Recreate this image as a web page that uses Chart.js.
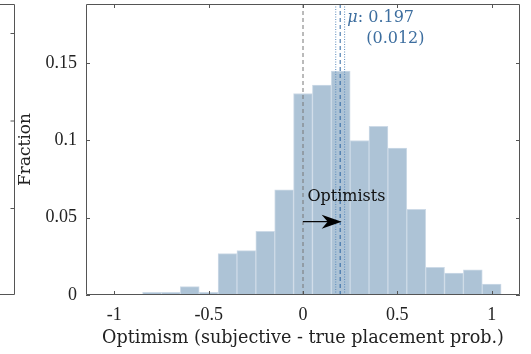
<!DOCTYPE html>
<html>
<head>
<meta charset="utf-8">
<script src="https://cdn.jsdelivr.net/npm/chart.js@4/dist/chart.umd.min.js"></script>
<style>
  html, body { margin: 0; padding: 0; background: #fff; }
  #wrap { width: 531px; height: 354px; }
</style>
</head>
<body>
<div id="wrap"><canvas id="chart"></canvas></div>
<script>
// histogram bins (centre of each 0.1-wide bin) and fraction of subjects in each
const binCenters = [-0.8, -0.7, -0.6, -0.5, -0.4, -0.3, -0.2, -0.1, 0.0, 0.1,
                    0.2, 0.3, 0.4, 0.5, 0.6, 0.7, 0.8, 0.9, 1.0];
const fractions = [0.0017, 0.0017, 0.0054, 0.0017, 0.0267, 0.0287, 0.0412, 0.0679, 0.1302, 0.1356,
                   0.1447, 0.0998, 0.1089, 0.0949, 0.0554, 0.0179, 0.0142, 0.0162, 0.0071];

const xTicks = [-1, -0.5, 0, 0.5, 1];
const xTickLabels = ['-1', '-0.5', '0', '0.5', '1'];
const yTicks = [0, 0.05, 0.1, 0.15];
const yTickLabels = ['0', '0.05', '0.1', '0.15'];

// mean optimism and its standard error
const meanValue = 0.197;
const meanSE = 0.012;
const ciLow = meanValue - 1.96 * meanSE;
const ciHigh = meanValue + 1.96 * meanSE;

const xMin = -1.15, xMax = 1.15, yMax = 0.188;
const arrowY = 0.0474;

const serif = "'DejaVu Serif', serif";
const tickFont = { family: "'Liberation Serif', serif", size: 18 };
const blueText = '#3d6e9f';

function vline(x, color, dash) {
  return {
    type: 'line',
    data: [{ x: x, y: 0 }, { x: x, y: yMax }],
    borderColor: color,
    borderWidth: 1,
    borderDash: dash,
    pointRadius: 0,
    fill: false
  };
}

// frame, inward ticks, annotations
const decorations = {
  id: 'decorations',
  afterDatasetsDraw(chart) {
    const ctx = chart.ctx;
    const a = chart.chartArea;
    const xs = chart.scales.x, ys = chart.scales.y;
    ctx.save();
    ctx.strokeStyle = '#555';
    ctx.lineWidth = 1;
    ctx.beginPath();
    ctx.rect(a.left + 0.5, a.top + 0.5, a.right - a.left - 1, a.bottom - a.top - 1);
    xTicks.forEach(v => {
      const px = Math.round(xs.getPixelForValue(v)) + 0.5;
      ctx.moveTo(px, a.bottom); ctx.lineTo(px, a.bottom - 4);
      ctx.moveTo(px, a.top); ctx.lineTo(px, a.top + 4);
    });
    yTicks.forEach(v => {
      const py = Math.round(ys.getPixelForValue(v)) + 0.5;
      ctx.moveTo(a.left, py); ctx.lineTo(a.left + 4, py);
      ctx.moveTo(a.right, py); ctx.lineTo(a.right - 4, py);
    });
    // edge of the neighbouring panel on the left
    ctx.moveTo(0, a.top + 0.5); ctx.lineTo(14.5, a.top + 0.5);
    ctx.lineTo(14.5, a.bottom - 0.5); ctx.lineTo(0, a.bottom - 0.5);
    [33, 120.5, 208].forEach(py => {
      ctx.moveTo(14.5, py + 0.5); ctx.lineTo(10.5, py + 0.5);
    });
    ctx.stroke();

    // arrow
    const y = ys.getPixelForValue(arrowY);
    const x0 = xs.getPixelForValue(0);
    const x1 = xs.getPixelForValue(meanValue) + 1.5;
    ctx.strokeStyle = '#000';
    ctx.fillStyle = '#000';
    ctx.lineWidth = 1.2;
    ctx.beginPath();
    ctx.moveTo(x0, y); ctx.lineTo(x1 - 12, y);
    ctx.stroke();
    ctx.beginPath();
    ctx.moveTo(x1, y);
    ctx.lineTo(x1 - 20, y - 7);
    ctx.lineTo(x1 - 14, y);
    ctx.lineTo(x1 - 20, y + 7);
    ctx.closePath();
    ctx.fill();

    // text
    ctx.textBaseline = 'middle';
    ctx.textAlign = 'center';
    ctx.font = '16px ' + serif;
    ctx.fillStyle = '#111';
    ctx.fillText('Optimists', xs.getPixelForValue(0.23), ys.getPixelForValue(0.0635));

    ctx.textAlign = 'left';
    ctx.fillStyle = blueText;
    const tx = xs.getPixelForValue(0.235);
    ctx.font = 'italic 16px ' + serif;
    ctx.fillText('\u03bc', tx, 18);
    const mw = ctx.measureText('\u03bc').width;
    ctx.font = '16px ' + serif;
    ctx.fillText(': ' + meanValue.toFixed(3), tx + mw, 18);
    ctx.fillText('(' + meanSE.toFixed(3) + ')', xs.getPixelForValue(0.335), 39);
    ctx.restore();
  }
};

new Chart(document.getElementById('chart'), {
  type: 'bar',
  data: {
    datasets: [
      vline(0, '#777', [4, 3]),
      vline(ciLow, '#5b8cbd', [1, 1.5]),
      vline(ciHigh, '#5b8cbd', [1, 1.5]),
      vline(meanValue, '#2a64a0', [4, 3]),
      {
        type: 'bar',
        data: binCenters.map((c, i) => ({ x: c, y: fractions[i] })),
        backgroundColor: 'rgb(173,195,214)',
        borderColor: 'rgb(205,218,231)',
        borderWidth: 1,
        borderSkipped: false,
        barPercentage: 1,
        categoryPercentage: 1
      }
    ]
  },
  options: {
    responsive: true,
    maintainAspectRatio: false,
    animation: false,
    layout: { padding: { left: 0, right: 11, top: 4, bottom: 0 } },
    plugins: { legend: { display: false }, tooltip: { enabled: false } },
    scales: {
      x: {
        type: 'linear',
        min: xMin,
        max: xMax,
        offset: false,
        grid: { display: false, drawTicks: false },
        border: { display: false },
        afterBuildTicks: s => { s.ticks = xTicks.map(v => ({ value: v })); },
        afterFit: s => { s.height = 59; s.paddingLeft = 0; s.paddingRight = 0; },
        ticks: {
          font: tickFont,
          color: '#222',
          padding: 9,
          maxRotation: 0,
          autoSkip: false,
          callback: v => xTickLabels[xTicks.indexOf(v)]
        },
        title: {
          display: true,
          text: 'Optimism (subjective - true placement prob.)',
          font: { family: serif, size: 17.6 },
          color: '#222',
          padding: { top: 0, bottom: 5 }
        }
      },
      y: {
        min: 0,
        max: yMax,
        grid: { display: false, drawTicks: false },
        border: { display: false },
        afterBuildTicks: s => { s.ticks = yTicks.map(v => ({ value: v })); },
        afterFit: s => { s.width = 86; s.paddingTop = 0; s.paddingBottom = 0; },
        ticks: {
          font: tickFont,
          color: '#222',
          padding: 9,
          autoSkip: false,
          callback: v => yTickLabels[yTicks.indexOf(v)]
        },
        title: {
          display: true,
          text: 'Fraction',
          font: { family: serif, size: 17 },
          color: '#222',
          padding: { top: 15, bottom: 0 }
        }
      }
    }
  },
  plugins: [decorations]
});
</script>
</body>
</html>
